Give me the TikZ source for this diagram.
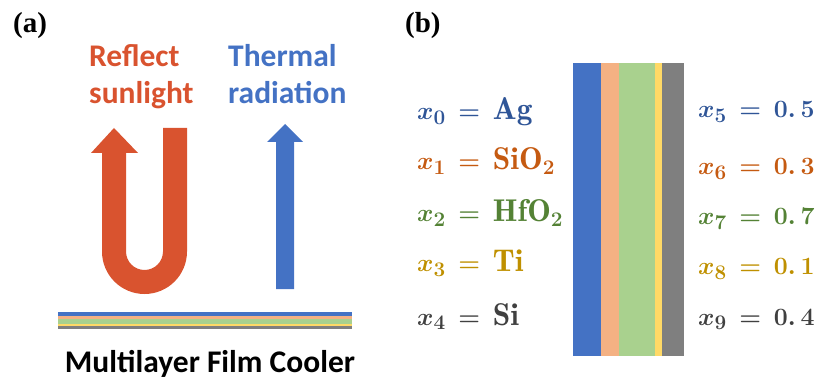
\documentclass[tikz,border=0pt]{standalone}
\usepackage{amsmath}
\usepackage{fontspec}
\usepackage{xcolor}
\usepackage{tikz}
\usetikzlibrary{positioning}

\newfontfamily\calib{Carlito}
\newfontfamily\timesf{Liberation Serif}

\definecolor{sunred}{HTML}{D9532F}
\definecolor{layblue}{HTML}{4472C4}
\definecolor{layorange}{HTML}{F4B183}
\definecolor{laygreen}{HTML}{A9D18E}
\definecolor{layyellow}{HTML}{FFD966}
\definecolor{laygray}{HTML}{7F7F7F}
\definecolor{txtblue}{HTML}{2F5597}
\definecolor{txtorange}{HTML}{C55A11}
\definecolor{txtgreen}{HTML}{548235}
\definecolor{txtgold}{HTML}{BF9000}
\definecolor{txtgray}{HTML}{404040}

\begin{document}
\begin{tikzpicture}[x=1pt, y=-1pt,
    panel/.style={font=\timesf\bfseries\fontsize{29}{32}\selectfont, anchor=base west, inner sep=0},
    caption/.style={font=\calib\bfseries\fontsize{31.5}{37}\selectfont, align=left, anchor=base west, inner sep=0},
    eqn/.style={font={\boldmath\thickmuskip=8mu\fontsize{31.5}{36}\selectfont}, anchor=base west, inner sep=0}
  ]
  \useasboundingbox (0,0) rectangle (831,385);

  % --- PANEL A: COOLER SKETCH ---
  \node[panel] (labA) at (13,33) {(a)};
  \node[caption, text=sunred] (reflect) at (89,104) {Reflect\\sunlight};
  \node[caption, text=layblue] (thermal) at (228,104) {Thermal\\radiation};

  % U-turn arrow of the reflected light
  \fill[sunred] (187,128) -- (187,251.5) arc[start angle=0, end angle=180, radius=42.5]
    -- (102,153) -- (91,153) -- (114,128) -- (138,153) -- (126,153)
    -- (126,251.5) arc[start angle=180, end angle=0, radius=18.5]
    -- (163,128) -- cycle;

  % straight arrow of the emitted heat
  \fill[layblue] (276,289) -- (276,142) -- (267,142) -- (285,124)
    -- (303,142) -- (294,142) -- (294,289) -- cycle;

  % thin film, layer by layer
  \foreach \ya/\yb/\col in {312/316/layblue, 316/319/layorange, 319/324/laygreen,
                            324/326/layyellow, 326/329/laygray}
    \fill[\col] (58,\ya) rectangle (352,\yb);

  \node[caption, anchor=base] (cooler) at (210,372) {Multilayer Film Cooler};

  % --- PANEL B: LAYER STACK AND PARAMETERS ---
  \node[panel] (labB) at (405,33) {(b)};

  \foreach \xa/\xb/\col in {573/601/layblue, 601/619/layorange, 619/655/laygreen,
                            655/662/layyellow, 662/684/laygray}
    \fill[\col] (\xa,63) rectangle (\xb,356);

  % materials on the left
  \foreach \i/\mat/\col/\yy in {0/{\mathrm{Ag}}/txtblue/120, 1/{\mathrm{SiO}_2}/txtorange/170,
                                2/{\mathrm{HfO}_2}/txtgreen/222, 3/{\mathrm{Ti}}/txtgold/272,
                                4/{\mathrm{Si}}/txtgray/325}
    \node[eqn, text=\col] (mat\i) at (417,\yy) {$x_{\i} = \mat$};

  % thicknesses on the right
  \foreach \i/\val/\col/\yy in {5/5/txtblue/118, 6/3/txtorange/175, 7/7/txtgreen/225,
                                8/1/txtgold/275, 9/4/txtgray/325}
    \node[eqn, text=\col] (thk\i) at (698,\yy) {$x_{\i} = 0.\,\val$};
\end{tikzpicture}
\end{document}
